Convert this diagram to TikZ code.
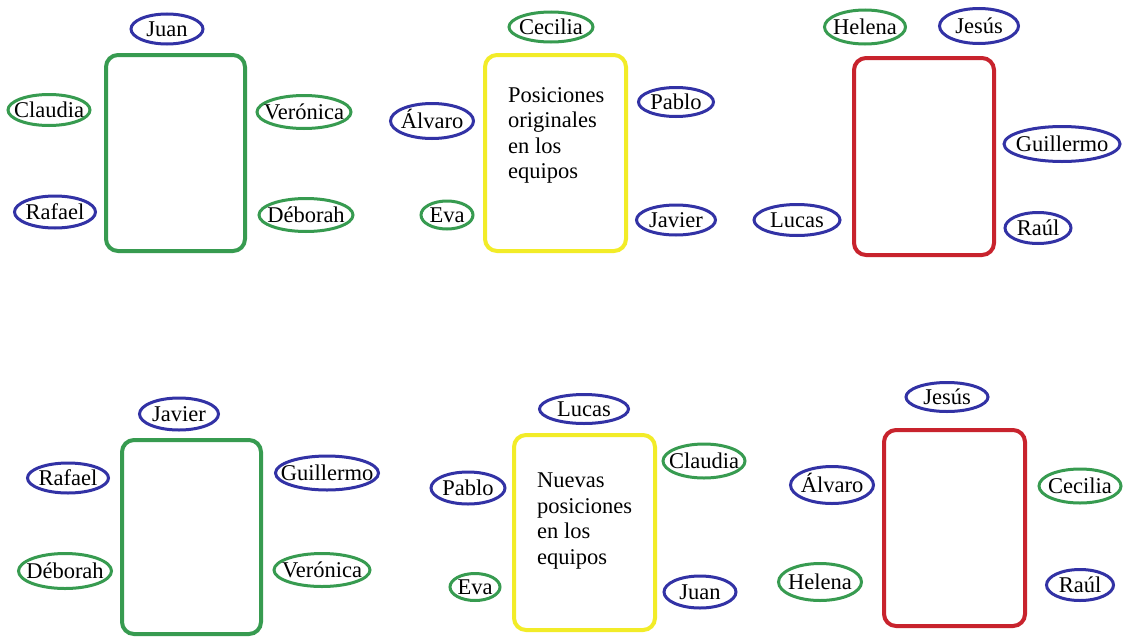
\documentclass[tikz,border=0pt]{standalone}
\usepackage{fontspec}
\setmainfont{LiberationSerif}[Extension=.ttf, UprightFont=*-Regular, BoldFont=*-Bold, ItalicFont=*-Italic]
\usetikzlibrary{shapes.geometric}
\definecolor{teamgreen}{RGB}{55,155,80}
\definecolor{teamblue}{RGB}{50,50,165}
\definecolor{teamyellow}{RGB}{242,236,40}
\definecolor{teamred}{RGB}{200,35,45}
\tikzset{
  team/.style={draw=#1, line width=4pt, rounded corners=12pt, rectangle,
    minimum width=139pt, minimum height=196pt, inner sep=0pt},
  player/.style={draw=#1, line width=3pt, ellipse, inner sep=0pt,
    text height=16pt, text depth=1pt,
    font=\fontsize{22.5}{25}\selectfont},
  caption/.style={anchor=north west, inner sep=0pt, align=left,
    font=\fontsize{22.5}{25.5}\selectfont},
}
% player oval: name, colour, x, y, width, height, label
% (the label is boxed at zero width so the oval keeps its given size)
\newcommand{\pl}[7]{%
  \node[player=#2, minimum width=#5pt, minimum height=#6pt] (#1) at (#3,#4)
    {\makebox[0pt]{#7}};}
\begin{document}
\begin{tikzpicture}[x=1pt,y=-1pt]
\useasboundingbox (0,0) rectangle (1123,637);
\fill[white] (0,0) rectangle (1123,637);

% original positions
\node[team=teamgreen] (boxA) at (175.5,153) {};
\node[team=teamyellow, minimum width=141pt] (boxB) at (555.5,153) {};
\node[team=teamred, minimum width=140pt, minimum height=197pt] (boxC) at (924,156.5) {};
\node[caption] (capB) at (508,87) {Posiciones\\originales\\en los\\equipos};

\pl{aJuan}{teamblue}{167}{29}{72}{30}{Juan}
\pl{aClaudia}{teamgreen}{49}{110}{82}{31}{Claudia}
\pl{aRafael}{teamblue}{55}{212}{81}{32}{Rafael}
\pl{aVeronica}{teamgreen}{304}{112}{94}{33}{Verónica}
\pl{aDeborah}{teamgreen}{306}{215}{94}{33}{Déborah}

\pl{aCecilia}{teamgreen}{551}{27}{84}{30}{Cecilia}
\pl{aAlvaro}{teamblue}{432}{121}{83}{35}{Álvaro}
\pl{aEva}{teamgreen}{447}{215}{52}{28}{Eva}
\pl{aPablo}{teamblue}{676}{102}{75}{29}{Pablo}
\pl{aJavier}{teamblue}{676}{220}{79}{30}{Javier}

\pl{aHelena}{teamgreen}{865}{27}{81}{34}{Helena}
\pl{aJesus}{teamblue}{979}{26}{79}{35}{Jesús}
\pl{aGuillermo}{teamblue}{1062}{144}{116}{35}{Guillermo}
\pl{aLucas}{teamblue}{797}{220}{86}{31}{Lucas}
\pl{aRaul}{teamblue}{1038}{228}{66}{31}{Raúl}

% new positions
\node[team=teamgreen, minimum height=194pt] (boxD) at (191.5,537) {};
\node[team=teamyellow, minimum width=141pt, minimum height=195pt] (boxE) at (584.5,532.5) {};
\node[team=teamred, minimum width=141pt] (boxF) at (954.5,528) {};
\node[caption] (capE) at (537,473) {Nuevas\\posiciones\\en los\\equipos};

\pl{bJavier}{teamblue}{179}{414}{79}{32}{Javier}
\pl{bRafael}{teamblue}{68}{478}{81}{30}{Rafael}
\pl{bGuillermo}{teamblue}{327}{473}{103}{34}{Guillermo}
\pl{bDeborah}{teamgreen}{65}{571}{93}{35}{Déborah}
\pl{bVeronica}{teamgreen}{322}{570}{96}{33}{Verónica}

\pl{bLucas}{teamblue}{584}{409}{89}{29}{Lucas}
\pl{bClaudia}{teamgreen}{704}{461}{82}{34}{Claudia}
\pl{bPablo}{teamblue}{468}{488}{74}{32}{Pablo}
\pl{bEva}{teamgreen}{475}{587}{50}{27}{Eva}
\pl{bJuan}{teamblue}{700}{592}{72}{32}{Juan}

\pl{bJesus}{teamblue}{947}{397}{82}{29}{Jesús}
\pl{bAlvaro}{teamblue}{832}{485}{83}{37}{Álvaro}
\pl{bCecilia}{teamgreen}{1080}{486}{82}{34}{Cecilia}
\pl{bHelena}{teamgreen}{820}{582}{83}{37}{Helena}
\pl{bRaul}{teamblue}{1080}{585}{67}{31}{Raúl}
\end{tikzpicture}
\end{document}
